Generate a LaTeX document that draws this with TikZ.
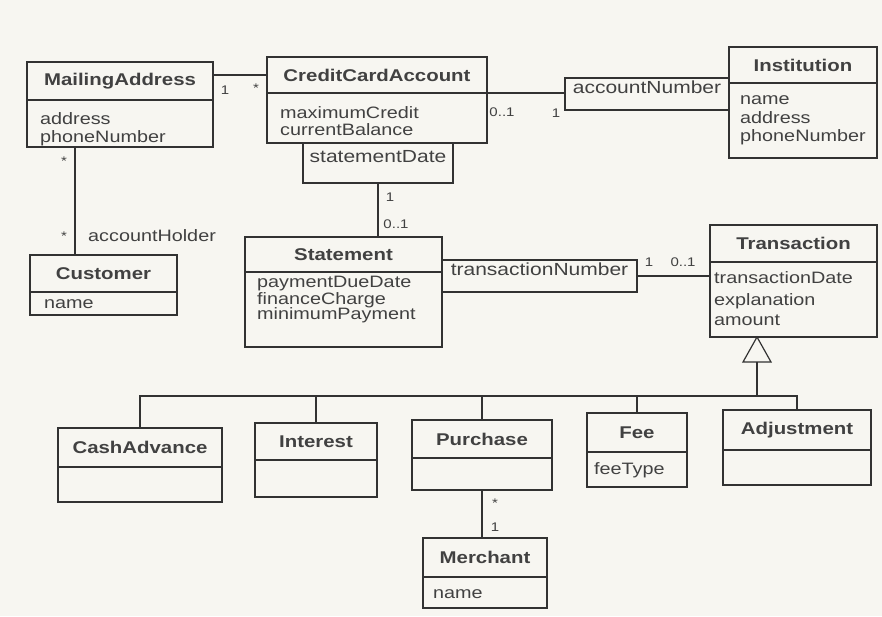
\documentclass[tikz,border=0pt]{standalone}
\usepackage{fontspec}
\setmainfont{Liberation Sans}[FakeStretch=1.2]
\usetikzlibrary{fit,calc}
\definecolor{linec}{RGB}{50,50,50}
\definecolor{txtc}{RGB}{65,65,65}
\definecolor{paper}{RGB}{247,246,241}
\newcommand\hdrfont{\fontsize{17}{19}\selectfont\bfseries}
\newcommand\attfont{\fontsize{16.5}{16}\selectfont}
\newcommand\qualfont{\fontsize{17.5}{19}\selectfont}
\newcommand\multfont{\fontsize{12.5}{13}\selectfont}
\tikzset{
  box/.style={draw=linec, line width=1.2pt, inner sep=0pt, outer sep=0pt},
  hdr/.style={font=\hdrfont, text=txtc, inner sep=0pt},
  att/.style={font=\attfont, text=txtc, align=left, anchor=north west, inner sep=0pt},
  qual/.style={box, font=\qualfont, text=txtc},
  mult/.style={font=\multfont, text=txtc, inner sep=0pt},
  conn/.style={draw=linec, line width=1.2pt},
}
\newcommand\umlcls[7]{%
  \node[box, fit={(#2,#3) (#4,#5)}] (#1) {};
  \draw[conn] (#1.west |- 0,#6) -- (#1.east |- 0,#6);
  \node[hdr] (#1-t) at ({(#2+#4)/2},{(#3+#6)/2}) {#7};
}
\newcommand\umlatt[4]{\node[att] (#1-a) at (#2,{#3-11.2}) {\strut #4};}

\begin{document}
\begin{tikzpicture}[x=1pt,y=-1pt]
\fill[paper] (0,0) rectangle (882,616);
\useasboundingbox (0,0) rectangle (882,616);

% classes
\umlcls{ma}{27}{62}{213}{147}{100}{MailingAddress}
\umlatt{ma}{40}{124}{address\\phoneNumber}
\umlcls{cca}{267}{57}{487}{143}{93}{CreditCardAccount}
\umlatt{cca}{280}{118}{maximumCredit\\[-1pt]currentBalance}
\node[qual, fit={(303,143) (453,183)}] (sd) {statementDate};
\umlcls{inst}{729}{47}{877}{158}{83}{Institution}
\umlatt{inst}{740}{104}{name\\[2pt]address\\[2pt]phoneNumber}
\node[qual, fit={(565,78) (729,110)}] (an) {accountNumber};
\umlcls{cust}{30}{255}{177}{315}{292}{Customer}
\umlatt{cust}{44}{308}{name}
\umlcls{stmt}{245}{237}{442}{347}{272}{Statement}
\umlatt{stmt}{257}{287}{paymentDueDate\\[-1pt]financeCharge\\[-1pt]minimumPayment}
\node[qual, fit={(442,260) (637,292)}] (tn) {transactionNumber};
\umlcls{tr}{710}{225}{877}{337}{262}{Transaction}
\umlatt{tr}{714}{283}{transactionDate\\[4pt]explanation\\[4pt]amount}

\umlcls{ca}{58}{428}{222}{502}{467}{CashAdvance}
\umlcls{int}{255}{423}{377}{497}{460}{Interest}
\umlcls{pur}{412}{420}{552}{490}{458}{Purchase}
\umlcls{fee}{587}{413}{687}{487}{452}{Fee}
\umlatt{fee}{594}{474}{feeType}
\umlcls{adj}{723}{410}{871}{485}{450}{Adjustment}
\umlcls{mer}{423}{538}{547}{608}{577}{Merchant}
\umlatt{mer}{433}{598}{name}

% generalization
\coordinate (gapex) at (tr.south -| 757,0);
\coordinate (gbase) at ($(gapex)+(0,25)$);
\coordinate (bus) at (757,396);
\draw[conn, fill=paper] (gapex) -- ++(-14,25) -- ++(28,0) -- cycle;
\draw[conn] (gbase) -- (bus);
\draw[conn] (ca.north) |- (bus) -| (adj.north);
\foreach \n in {int,pur,fee} \draw[conn] (\n.north) -- (\n.north |- bus);

% associations
\draw[conn] (ma.east |- 0,75) -- (cca.west |- 0,75);
\node[mult] (m1) at (225,90) {1};
\node[mult] (m2) at (256,88) {*};
\draw[conn] (cca.east |- 0,93) -- (an.west |- 0,93);
\node[mult] (m3) at (502,112) {0..1};
\node[mult] (m4) at (556,113) {1};
\draw[conn] (sd.south) -- (stmt.north -| sd.south);
\node[mult] (m5) at (390,197) {1};
\node[mult] (m6) at (396,224) {0..1};
\draw[conn] (ma.south -| 75,0) -- (cust.north -| 75,0);
\node[mult] (m7) at (64,161) {*};
\node[mult] (m8) at (64,236) {*};
\node[att, anchor=west] (ah) at (88,236) {accountHolder};
\draw[conn] (tn.east) -- (tr.west |- tn.east);
\node[mult] (m9) at (649,262) {1};
\node[mult] (m10) at (683,262) {0..1};
\draw[conn] (pur.south) -- (mer.north -| pur.south);
\node[mult] (m11) at (495,503) {*};
\node[mult] (m12) at (495,527) {1};
\end{tikzpicture}
\end{document}
